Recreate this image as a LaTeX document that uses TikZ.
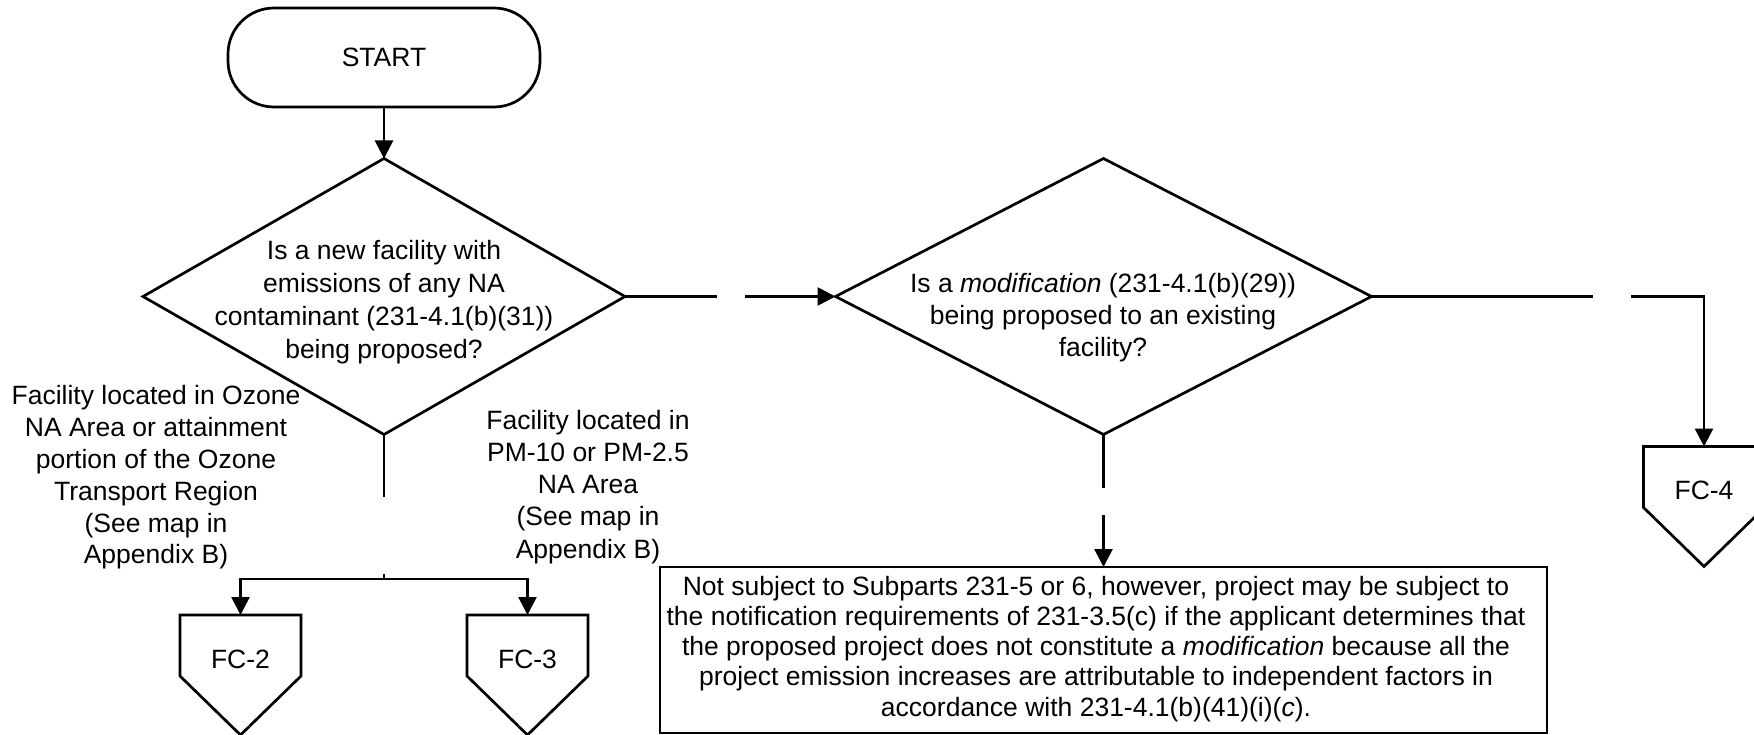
\documentclass[tikz,border=0pt]{standalone}
\usepackage{fontspec}
\setmainfont{Liberation Sans}
\usetikzlibrary{arrows.meta,shapes.geometric,calc}

\begin{document}
\begin{tikzpicture}[x=1pt,y=-1pt,
  every node/.style={font=\fontsize{26.5}{32.5}\selectfont},
  ln/.style={line width=2.7pt},
  arr/.style={ln,-{Triangle[length=18pt,width=18pt]}},
  terminal/.style={draw,ln,rounded corners=46pt,minimum width=312pt,
    minimum height=99pt,inner sep=0pt},
  decision/.style={draw,ln,diamond,inner sep=0pt,outer sep=0pt},
  txt/.style={align=center,inner sep=0pt},
  notebox/.style={draw,ln,rectangle,minimum width=887pt,
    minimum height=166pt,inner sep=0pt,outer sep=0pt},
  offpage/.style={minimum width=121pt,minimum height=61pt,inner sep=0pt,
    outer sep=0pt,text height=45pt,text depth=0pt,
    append after command={\pgfextra{
      \draw[ln,line join=miter] (\tikzlastnode.north west)
        -- (\tikzlastnode.north east) -- (\tikzlastnode.south east)
        -- ($(\tikzlastnode.south)+(0,59)$) -- (\tikzlastnode.south west)
        -- cycle;}}},
]
\useasboundingbox (0,0) rectangle (1754,735);
\clip (0,0) rectangle (1754,735);

% shapes
\node[terminal] (start) at (384,57.5) {START};
\node[decision,minimum width=482pt,minimum height=276pt] (q1) at (384,296.5) {};
\node[decision,minimum width=536pt,minimum height=276pt] (q2) at (1103.5,296.5) {};
\node[notebox] (note) at (1103.5,650) {};
\node[offpage] (fc2) at (240.5,645.5) {FC-2};
\node[offpage] (fc3) at (527.5,645.5) {FC-3};
\node[offpage] (fc4) at (1704,477) {FC-4};

% texts
\node[txt,font=\fontsize{26.5}{33}\selectfont] (q1t) at (384,302.6)
  {Is a new facility with\\emissions of any NA\\contaminant (231-4.1(b)(31))\\being proposed?};
\node[txt,font=\fontsize{26.5}{32}\selectfont] (q2t) at (1103,318)
  {Is a \textit{modification} (231-4.1(b)(29))\\being proposed to an existing\\facility?};
\node[txt,font=\fontsize{26.5}{31.8}\selectfont] (lab1) at (156,477.6)
  {Facility located in Ozone\\NA Area or attainment\\portion of the Ozone\\Transport Region\\(See map in\\Appendix B)};
\node[txt,font=\fontsize{26.5}{32.25}\selectfont] (lab2) at (588,486.7)
  {Facility located in\\PM-10 or PM-2.5\\NA Area\\(See map in\\Appendix B)};
\node[txt,font=\fontsize{26.5}{30.25}\selectfont] (notet) at (1096,648.7)
  {Not subject to Subparts 231-5 or 6, however, project may be subject to\\
   the notification requirements of 231-3.5(c) if the applicant determines that\\
   the proposed project does not constitute a \textit{modification} because all the\\
   project emission increases are attributable to independent factors in\\
   accordance with 231-4.1(b)(41)(i)(\textit{c}).};

% break points of the connectors
\coordinate (g1a) at (717,0);
\coordinate (g1b) at (745,0);
\coordinate (g2a) at (1593,0);
\coordinate (g2b) at (1631,0);
\coordinate (g3a) at (0,488);
\coordinate (g3b) at (0,515);
\coordinate (g4a) at (0,497);
\coordinate (g4b) at (0,574);
\coordinate (jn) at (384,579);

% connectors
\draw[arr] (start) -- (q1.north);
\draw[ln] (q1.east) -- (q1.east -| g1a);
\draw[arr] (q2.west -| g1b) -- (q2.west);
\draw[ln] (q2.east) -- (q2.east -| g2a);
\draw[arr] (q2.east -| g2b) -| (fc4.north);
\draw[ln] (q2.south) -- (q2.south |- g3a);
\draw[arr] (note.north |- g3b) -- (note.north);
\draw[ln] (q1.south) -- (q1.south |- g4a);
\draw[ln] (q1.south |- g4b) -- (jn);
\draw[arr] (jn) -| (fc2.north);
\draw[arr] (jn) -| (fc3.north);
\end{tikzpicture}
\end{document}
